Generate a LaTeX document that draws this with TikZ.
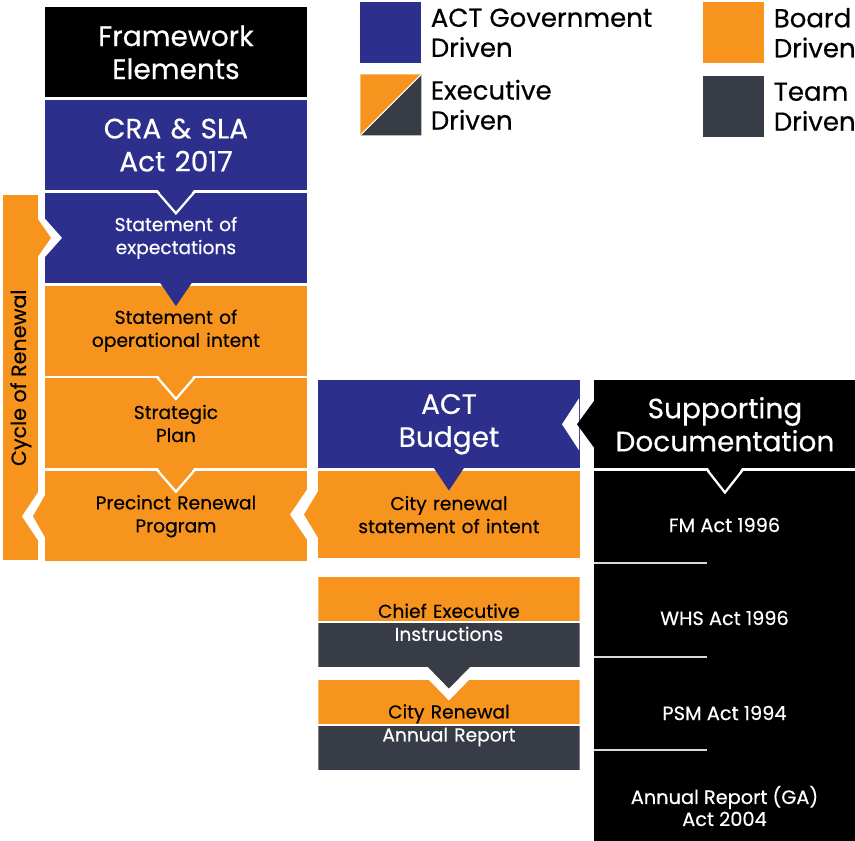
\documentclass[tikz,border=0pt]{standalone}
\usepackage{fontspec}
\setmainfont{Poppins}[FakeBold=0.4]
\usetikzlibrary{positioning,calc}
\definecolor{actblue}{RGB}{45,47,140}
\definecolor{boardorange}{RGB}{247,148,30}
\definecolor{teamgray}{RGB}{55,60,70}

\begin{document}
\begin{tikzpicture}[x=0.75pt, y=-0.75pt, node distance=1.7pt,
  box/.style={rectangle, inner sep=0pt, minimum width=196pt, minimum height=67.5pt, align=center, text width=190pt},
  big/.style={font=\fontsize{21}{24.75}\selectfont},
  mid/.style={font=\fontsize{14}{17.25}\selectfont},
  small/.style={font=\fontsize{14.5}{16.5}\selectfont},
  govbox/.style={box, fill=actblue, text=white},
  boardbox/.style={box, fill=boardorange, text=black},
  headbox/.style={box, fill=black, text=white, big},
  halfbox/.style={box, mid, text=black, path picture={
      \fill[boardorange] (path picture bounding box.north west) rectangle ([yshift=0.85pt]path picture bounding box.east);
      \fill[teamgray] ([yshift=-0.85pt]path picture bounding box.west) rectangle (path picture bounding box.south east);}},
  legsq/.style={rectangle, inner sep=0pt, minimum size=45.75pt, anchor=north west},
  legtxt/.style={inner sep=0pt, align=left, font=\fontsize{19.5}{22.5}\selectfont},
  notch/.style={fill=white},
  vline/.style={draw=white, line width=1.7pt},
  sepline/.style={draw=white!85!black, line width=1.8pt}]
\useasboundingbox (0,0) rectangle (855,840);
% Legenda
\node[legsq, fill=actblue] (lgov) at (360,2) {};
\node[legsq, path picture={
    \fill[boardorange] (path picture bounding box.north west) -- (path picture bounding box.north east) -- (path picture bounding box.south west) -- cycle;
    \fill[teamgray] (path picture bounding box.north east) -- (path picture bounding box.south east) -- (path picture bounding box.south west) -- cycle;
    \draw[white, line width=0.8pt] (path picture bounding box.south west) -- (path picture bounding box.north east);}] (lexe) at (360,74) {};
\node[legsq, fill=boardorange] (lboard) at (703,2) {};
\node[legsq, fill=teamgray] (lteam) at (703,76) {};
\node[legtxt, right=6.75pt of lgov] (tgov) {ACT Government\\Driven};
\node[legtxt, right=6.75pt of lexe] (texe) {Executive\\Driven};
\node[legtxt, right=6.75pt of lboard] (tboard) {Board\\Driven};
\node[legtxt, right=6.75pt of lteam] (tteam) {Team\\Driven};
% Coluna da esquerda
\node[headbox, anchor=north west] (fw) at (45,7) {Framework\\Elements};
\node[govbox, big, below=of fw] (cra) {CRA \& SLA\\Act 2017};
\node[govbox, mid, below=of cra] (soe) {Statement of\\expectations};
\node[boardbox, mid, below=of soe] (sooi) {Statement of\\operational intent};
\node[boardbox, mid, below=of sooi] (sp) {Strategic\\Plan};
\node[boardbox, mid, below=of sp] (prp) {Precinct Renewal\\Program};
\node[rectangle, fill=boardorange, inner sep=0pt, minimum width=26.25pt, minimum height=273.75pt, anchor=north west] (bar) at (3,195) {};
\node[rotate=90, inner sep=0pt, font=\fontsize{15.5}{15.5}\selectfont] (cyc) at (bar.center) {Cycle of Renewal};
% Coluna do meio
\node[govbox, big, anchor=north west, minimum height=66pt] (ab) at (318,380) {ACT\\Budget};
\node[boardbox, mid, below=of ab, minimum height=65.25pt] (crs) {City renewal\\statement of intent};
\node[halfbox, anchor=north west] (ce) at (318,577) {Chief Executive\\\textcolor{white}{Instructions}};
\node[halfbox, anchor=north west] (crn) at (318,680) {City Renewal\\\textcolor{white}{Annual Report}};
% Coluna da direita
\node[headbox, anchor=north west, minimum height=66pt] (sd) at (594,380) {Supporting\\Documentation};
\node[box, fill=black, below=of sd, minimum height=277.3pt] (docs) {};
\node[small, text=white, align=center] (fm) at (724.5,525) {FM Act 1996};
\node[small, text=white, align=center] (whs) at (724.5,618) {WHS Act 1996};
\node[small, text=white, align=center] (psm) at (724.5,713) {PSM Act 1994};
\node[small, text=white, align=center] (arga) at (724.5,806) {Annual Report (GA)\\Act 2004};
\draw[sepline] (594,563) -- (707,563);
\draw[sepline] (594,657) -- (707,657);
\draw[sepline] (594,750) -- (707,750);
% Pontas laterais
\fill[notch] ($(soe.west)+(-7,-27)$) -- ($(soe.west)+(17,0)$) -- ($(soe.west)+(-7,27)$) -- cycle;
\fill[boardorange] ($(soe.west)+(-8,-20)$) -- ($(soe.west)+(6,0)$) -- ($(soe.west)+(-8,20)$) -- cycle;
\fill[notch] ($(prp.west)+(-7,-24)$) -- ($(prp.west)+(-23,0)$) -- ($(prp.west)+(-7,24)$) -- cycle;
\fill[boardorange] ($(prp.west)+(0.5,-22)$) -- ($(prp.west)+(-12,0)$) -- ($(prp.west)+(0.5,22)$) -- cycle;
\fill[notch] ($(crs.west)+(-11,-25)$) -- ($(crs.west)+(-28,0)$) -- ($(crs.west)+(-11,25)$) -- cycle;
\fill[boardorange] ($(crs.west)+(0.5,-24)$) -- ($(crs.west)+(-14,0)$) -- ($(crs.west)+(0.5,24)$) -- cycle;
\fill[notch] ($(sd.west)+(-15,-26)$) -- ($(sd.west)+(-32,0)$) -- ($(sd.west)+(-15,26)$) -- cycle;
\fill ($(sd.west)+(0.5,-24)$) -- ($(sd.west)+(-17,0)$) -- ($(sd.west)+(0.5,24)$) -- cycle;
% Setas para baixo
\fill[actblue] ($(cra.south)+(-18,-0.5)$) -- ($(cra.south)+(0,23)$) -- ($(cra.south)+(18,-0.5)$) -- cycle;
\draw[vline] ($(cra.south)+(-19,1.1)$) -- ($(cra.south)+(0,23)$) -- ($(cra.south)+(19,1.1)$);
\fill[actblue] ($(soe.south)+(-16,-0.5)$) -- ($(soe.south)+(0,23)$) -- ($(soe.south)+(16,-0.5)$) -- cycle;
\fill[boardorange] ($(sooi.south)+(-18,-0.5)$) -- ($(sooi.south)+(0,23)$) -- ($(sooi.south)+(18,-0.5)$) -- cycle;
\draw[vline] ($(sooi.south)+(-19,1.1)$) -- ($(sooi.south)+(0,23)$) -- ($(sooi.south)+(19,1.1)$);
\fill[boardorange] ($(sp.south)+(-18,-0.5)$) -- ($(sp.south)+(0,23)$) -- ($(sp.south)+(18,-0.5)$) -- cycle;
\draw[vline] ($(sp.south)+(-19,1.1)$) -- ($(sp.south)+(0,23)$) -- ($(sp.south)+(19,1.1)$);
\fill[actblue] ($(ab.south)+(-15,-0.5)$) -- ($(ab.south)+(0,22)$) -- ($(ab.south)+(15,-0.5)$) -- cycle;
\fill ($(sd.south)+(-17,-0.5)$) -- ($(sd.south)+(0,24)$) -- ($(sd.south)+(17,-0.5)$) -- cycle;
\draw[vline] ($(sd.south)+(-18,1.1)$) -- ($(sd.south)+(0,24)$) -- ($(sd.south)+(18,1.1)$);
\fill[notch] ($(ce.south)+(-32,0)$) -- ($(ce.south)+(0,33)$) -- ($(ce.south)+(32,0)$) -- cycle;
\fill[teamgray] ($(ce.south)+(-21,-0.5)$) -- ($(ce.south)+(0,21)$) -- ($(ce.south)+(21,-0.5)$) -- cycle;
\end{tikzpicture}
\end{document}
